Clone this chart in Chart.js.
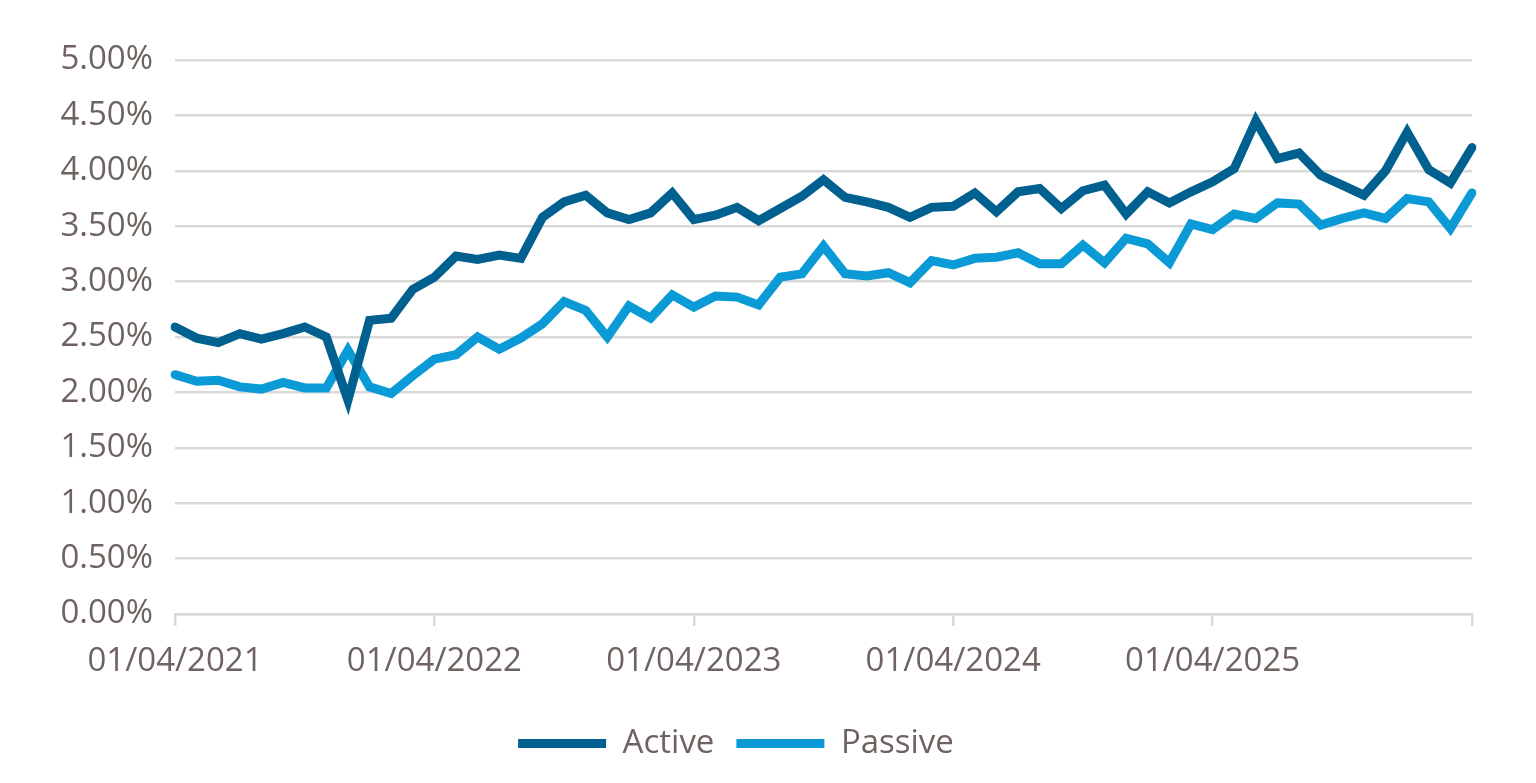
<!DOCTYPE html>
<html>
<head>
<meta charset="utf-8">
<script src="https://cdn.jsdelivr.net/npm/chart.js@4.4.1/dist/chart.umd.min.js"></script>
<style>
  html, body { margin: 0; padding: 0; background: #ffffff; }
  #wrap { width: 1536px; height: 783px; position: relative; }
</style>
</head>
<body>
<div id="wrap"><canvas id="chart" width="1536" height="783"></canvas></div>
<script>
// monthly dates, 01/04/2021 .. 01/04/2026
const months = ['01/04/2021','01/05/2021','01/06/2021','01/07/2021','01/08/2021','01/09/2021','01/10/2021','01/11/2021','01/12/2021','01/01/2022','01/02/2022','01/03/2022',
  '01/04/2022','01/05/2022','01/06/2022','01/07/2022','01/08/2022','01/09/2022','01/10/2022','01/11/2022','01/12/2022','01/01/2023','01/02/2023','01/03/2023',
  '01/04/2023','01/05/2023','01/06/2023','01/07/2023','01/08/2023','01/09/2023','01/10/2023','01/11/2023','01/12/2023','01/01/2024','01/02/2024','01/03/2024',
  '01/04/2024','01/05/2024','01/06/2024','01/07/2024','01/08/2024','01/09/2024','01/10/2024','01/11/2024','01/12/2024','01/01/2025','01/02/2025','01/03/2025',
  '01/04/2025','01/05/2025','01/06/2025','01/07/2025','01/08/2025','01/09/2025','01/10/2025','01/11/2025','01/12/2025','01/01/2026','01/02/2026','01/03/2026',
  '01/04/2026'];
// labels shown under the axis
const shownLabels = ['01/04/2021','01/04/2022','01/04/2023','01/04/2024','01/04/2025'];
// ticks with a tick mark
const tickMarks = ['01/04/2021','01/04/2022','01/04/2023','01/04/2024','01/04/2025','01/04/2026'];

// values in %
const active = [2.59,2.49,2.45,2.53,2.48,2.53,2.59,2.50,1.93,2.65,2.67,2.93,
  3.04,3.23,3.20,3.24,3.21,3.58,3.72,3.78,3.62,3.56,3.62,3.80,
  3.56,3.60,3.67,3.55,3.66,3.77,3.92,3.76,3.72,3.67,3.58,3.67,
  3.68,3.80,3.63,3.81,3.84,3.66,3.82,3.87,3.61,3.81,3.71,3.81,
  3.90,4.02,4.45,4.11,4.16,3.96,3.87,3.78,4.00,4.35,4.01,3.89,
  4.21];
const passive = [2.16,2.10,2.11,2.05,2.03,2.09,2.04,2.04,2.38,2.05,1.99,2.15,
  2.30,2.34,2.50,2.39,2.49,2.62,2.82,2.74,2.50,2.78,2.67,2.88,
  2.77,2.87,2.86,2.79,3.04,3.07,3.32,3.07,3.05,3.08,2.99,3.19,
  3.15,3.21,3.22,3.26,3.16,3.16,3.33,3.17,3.39,3.34,3.17,3.52,
  3.47,3.61,3.57,3.71,3.70,3.51,3.57,3.62,3.57,3.75,3.72,3.48,
  3.80];

const textColor = '#6e6360';
const gridColor = '#d9d9d9';
const fontFamily = "'Open Sans', sans-serif";
const fontSize = 33;

new Chart(document.getElementById('chart'), {
  type: 'line',
  data: {
    labels: months,
    datasets: [
      { label: 'Active', data: active, borderColor: '#00608f', backgroundColor: '#00608f',
        borderWidth: 9, pointRadius: 0, tension: 0, borderCapStyle: 'round', borderJoinStyle: 'miter' },
      { label: 'Passive', data: passive, borderColor: '#0a9ad5', backgroundColor: '#0a9ad5',
        borderWidth: 9, pointRadius: 0, tension: 0, borderCapStyle: 'round', borderJoinStyle: 'miter' }
    ]
  },
  options: {
    responsive: false,
    animation: false,
    layout: { padding: { top: 60, right: 64, left: 0, bottom: 13 } },
    plugins: {
      tooltip: { enabled: false },
      legend: {
        position: 'bottom',
        labels: {
          usePointStyle: true,
          pointStyle: 'line',
          pointStyleWidth: 88,
          color: textColor,
          font: { family: fontFamily, size: fontSize },
          padding: 22
        }
      }
    },
    scales: {
      x: {
        offset: false,
        border: { color: gridColor, width: 2.5 },
        grid: {
          drawOnChartArea: false,
          tickLength: 12,
          lineWidth: 2.5,
          color: ctx => tickMarks.includes(months[ctx.index]) ? gridColor : 'rgba(0,0,0,0)'
        },
        ticks: {
          autoSkip: false,
          maxRotation: 0,
          color: textColor,
          font: { family: fontFamily, size: fontSize },
          padding: 16,
          callback: function (v, i) { return shownLabels.includes(months[i]) ? months[i] : ''; }
        },
        afterFit: scale => { scale.height = 91; }
      },
      y: {
        min: 0,
        max: 5,
        border: { display: false },
        grid: { color: gridColor, lineWidth: 2.5, drawTicks: false },
        ticks: {
          stepSize: 0.5,
          color: textColor,
          font: { family: fontFamily, size: fontSize },
          padding: 22,
          callback: v => v.toFixed(2) + '%'
        },
        afterFit: scale => { scale.width = 175; }
      }
    }
  }
});
</script>
</body>
</html>
